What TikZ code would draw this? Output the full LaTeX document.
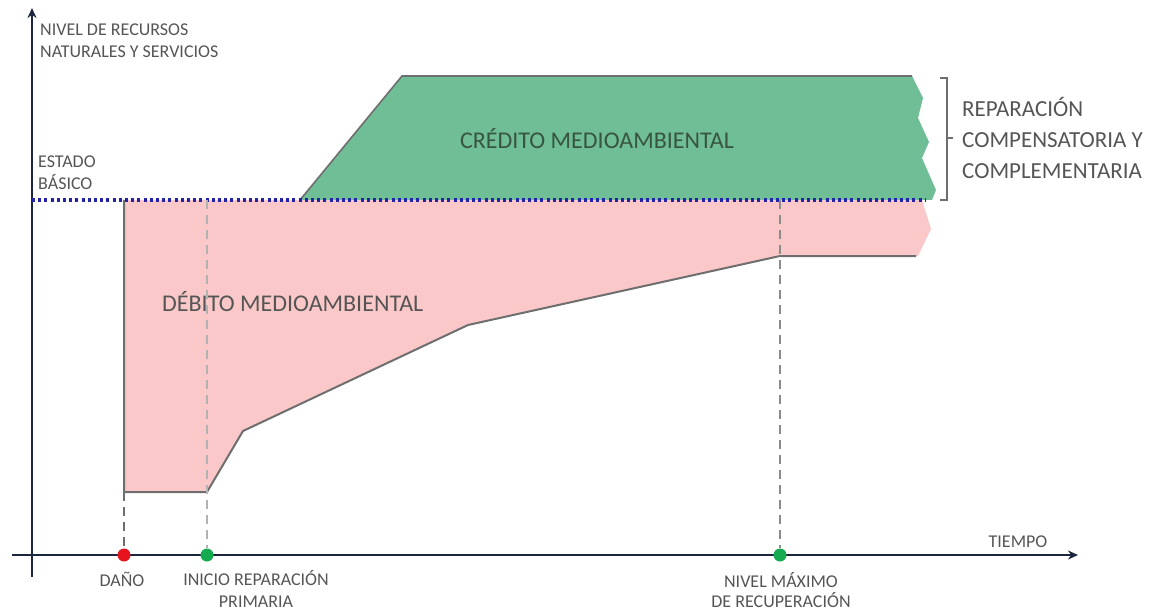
\documentclass[tikz,border=0pt]{standalone}
\usepackage{fontspec}
\setmainfont{Carlito}
\usetikzlibrary{arrows.meta}
\definecolor{debitofill}{RGB}{250,200,200}
\definecolor{creditofill}{RGB}{112,190,150}
\definecolor{creditotext}{RGB}{55,85,65}
\definecolor{textgray}{RGB}{85,85,85}
\definecolor{axisblue}{RGB}{28,38,62}
\definecolor{basicoblue}{RGB}{35,35,170}
\definecolor{curvegray}{RGB}{110,110,110}
\definecolor{dotred}{RGB}{230,20,30}
\definecolor{dotgreen}{RGB}{20,170,80}
\begin{document}
\begin{tikzpicture}[x=1pt,y=-1pt,
  smallstyle/.style={font=\fontsize{18}{22}\selectfont,text=textgray,inner sep=0},
  bigstyle/.style={font=\fontsize{24}{31}\selectfont,text=textgray,inner sep=0},
  dotstyle/.style={circle,minimum size=13,inner sep=0},
  dashstyle/.style={dash pattern=on 9pt off 6pt,line width=1.8pt}]
\useasboundingbox (0,0) rectangle (1158,612);
% areas
\fill[debitofill] (124,200) -- (922,200) -- (931,229) -- (918,256) -- (780,256)
  -- (468,325) -- (243,431) -- (207,492) -- (124,492) -- cycle;
\fill[creditofill] (300,200) -- (402,76) -- (912,76) -- (923,98) -- (918,118)
  -- (929,142) -- (922,158) -- (936,190) -- (932,200) -- cycle;
\draw[curvegray,line width=1.6pt] (300,200) -- (402,76) -- (912,76);
\coordinate (P0) at (124,200);
\coordinate (P1) at (124,492);
\coordinate (P2) at (207,492);
\coordinate (P3) at (243,431);
\coordinate (P4) at (468,325);
\coordinate (P5) at (780,256);
\coordinate (P6) at (916,256);
\coordinate (Q2) at (207,200);
\coordinate (Q5) at (780,200);
\draw[curvegray,line width=2pt] (P0) -- (P1) -- (P2) -- (P3) -- (P4) -- (P5) -- (P6);
% axes
\draw[axisblue,line width=2.4pt,-{Stealth[length=10pt,width=9pt]}] (32,577) -- (32,8);
\draw[axisblue,line width=2.4pt,-{Stealth[length=10pt,width=9pt]}] (12,555) -- (1078,555);
% basic level
\draw[basicoblue,line width=3.2pt,dash pattern=on 3pt off 3.2pt] (32,200) -- (925,200);
% time marks
\node[dotstyle,fill=dotred](dano) at (124,555){};
\node[dotstyle,fill=dotgreen](inicio) at (207,555){};
\node[dotstyle,fill=dotgreen](maximo) at (780,555){};
\draw[dashstyle,curvegray] (P1) -- (dano);
\draw[dashstyle,black!30] (Q2) -- (inicio);
\draw[dashstyle,curvegray!80] (Q5) -- (maximo);
% bracket
\draw[curvegray,line width=1.8pt] (940,78) -- (947,78) -- (947,200) -- (940,200);
\draw[curvegray,line width=1.8pt] (947,138) -- (953,138);
% labels
\node[bigstyle,font=\fontsize{23}{31}\selectfont,anchor=west,align=left](reparacion) at (962,138){REPARACIÓN\\COMPENSATORIA Y\\COMPLEMENTARIA};
\node[bigstyle,text=creditotext](credito) at (597,139){CRÉDITO MEDIOAMBIENTAL};
\node[bigstyle,anchor=west](debito) at (162,302){DÉBITO MEDIOAMBIENTAL};
\node[smallstyle,anchor=west,align=left](nivel) at (40,41){NIVEL DE RECURSOS\\NATURALES Y SERVICIOS};
\node[smallstyle,anchor=west,align=left](estado) at (38,173){ESTADO\\BÁSICO};
\node[smallstyle](danolabel) at (122,579){DAÑO};
\node[smallstyle,align=center](iniciolabel) at (256,589){INICIO REPARACIÓN\\PRIMARIA};
\node[smallstyle,font=\fontsize{18}{20}\selectfont,align=center](maximolabel) at (781,590){NIVEL MÁXIMO\\DE RECUPERACIÓN};
\node[smallstyle](tiempo) at (1018,542){TIEMPO};
\end{tikzpicture}
\end{document}
